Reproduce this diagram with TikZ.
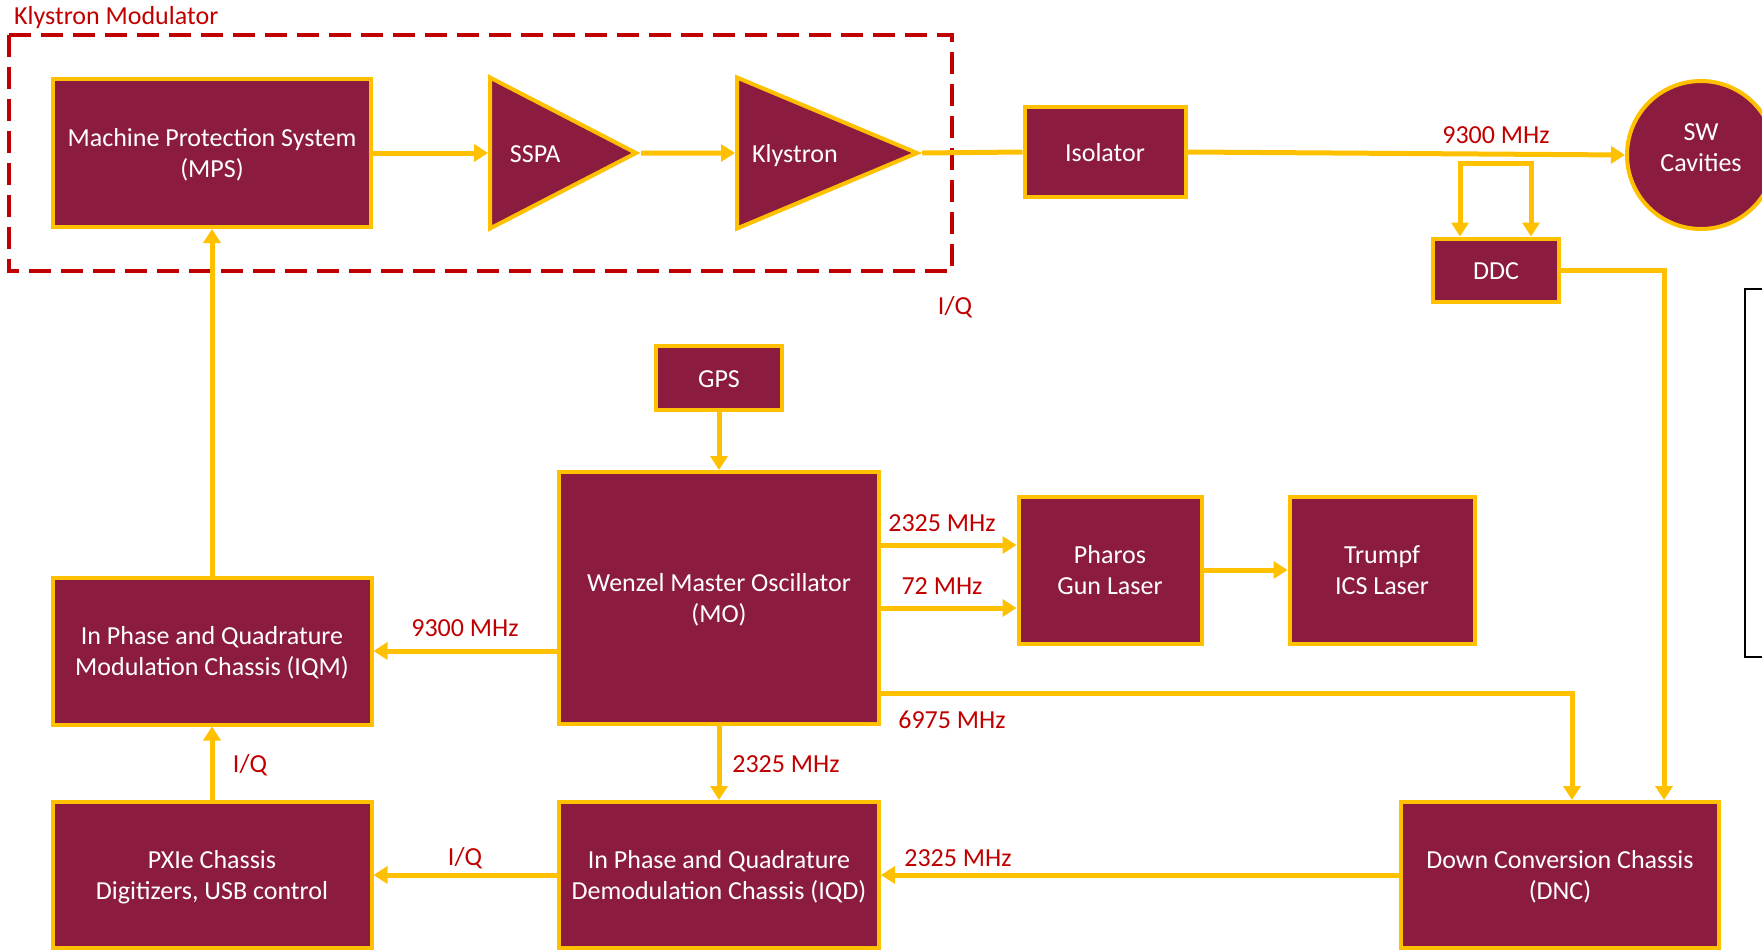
\documentclass[tikz,border=0pt]{standalone}
\usepackage{fontspec}
\setmainfont{Carlito}
\usetikzlibrary{positioning,shapes.geometric,arrows.meta}
\definecolor{boxfill}{HTML}{8B1C3F}
\definecolor{boxedge}{HTML}{FFC000}
\definecolor{lblred}{HTML}{C00000}
\tikzset{
  blk/.style={draw=boxedge, line width=4pt, fill=boxfill, text=white, align=center,
    font=\fontsize{26}{31}\selectfont, inner sep=0pt,
    execute at begin node={\rule[-7.5pt]{0pt}{33.5pt}}},
  two/.style={execute at begin node={\rule[-7.5pt]{0pt}{64.5pt}}},
  amp/.style={blk, isosceles triangle, isosceles triangle stretches,
    execute at begin node={}},
  flow/.style={draw=boxedge, line width=5pt, ->},
  lbl/.style={text=lblred, font=\fontsize{26}{31}\selectfont, inner sep=0pt},
  kmframe/.style={draw=lblred, line width=4pt, dash pattern=on 22pt off 10pt},
}

\begin{document}
\begin{tikzpicture}[x=1pt, y=-1pt, >={Triangle[length=14pt,width=17pt]}]
\useasboundingbox (0,0) rectangle (1762,951);

% ---- Klystron modulator ----
\draw[kmframe] (9,35) rectangle (952,271);
\node[lbl, anchor=west] (kmlbl) at (14,18) {Klystron Modulator};
\node[blk, two, minimum width=318pt, minimum height=148pt] (mps) at (212,153) {Machine Protection System\\(MPS)};
\node[amp, minimum height=146pt, minimum width=151pt, anchor=west] (sspa) at (488,153) {SSPA};
\node[amp, minimum height=180pt, minimum width=151pt, anchor=west] (klys) at (735,153) {Klystron};

% ---- RF line ----
\node[blk, minimum width=161pt, minimum height=90pt] (iso) at (1105,152) {Isolator};
\node[blk, circle, minimum size=148pt,
      execute at begin node={\rule[-14pt]{0pt}{14pt}}] (sw) at (1701,155) {SW\\Cavities};
\node[blk, minimum width=126pt, minimum height=63pt] (ddc) at (1496,270) {DDC};
\coordinate (cpl) at (1496,163);

% ---- timing / lasers ----
\node[blk, minimum width=126pt, minimum height=64pt] (gps) at (719,378) {GPS};
\node[blk, two, minimum width=320pt, minimum height=252pt] (mo) at (719,598) {Wenzel Master Oscillator\\(MO)};
\node[blk, two, minimum width=183pt, minimum height=147pt] (pharos) at (1110,570) {Pharos\\Gun Laser};
\node[blk, two, minimum width=185pt, minimum height=147pt, right=84pt of pharos] (trumpf) {Trumpf\\ICS Laser};

% ---- chassis ----
\node[blk, two, minimum width=319pt, minimum height=147pt] (iqm) at (212,651) {In Phase and Quadrature\\Modulation Chassis (IQM)};
\node[blk, two, minimum width=319pt, minimum height=146pt] (pxie) at (212,875) {PXIe Chassis\\Digitizers, USB control};
\node[blk, two, minimum width=320pt, minimum height=146pt] (iqd) at (719,875) {In Phase and Quadrature\\Demodulation Chassis (IQD)};
\node[blk, two, minimum width=318pt, minimum height=146pt] (dnc) at (1560,875) {Down Conversion Chassis\\(DNC)};

% ---- connections ----
\draw[flow] (mps.east) -- (sspa.west);
\draw[flow] (sspa.apex) -- (klys.west);
\draw[flow, -] (klys.apex) -- (iso.west);
\draw[flow] (iso.east) -- (sw.west);
\draw[flow, <->] ([xshift=-36pt]ddc.north) |- (cpl) -| ([xshift=35pt]ddc.north);
\draw[flow] (ddc.east) -| ([xshift=104pt]dnc.north);
\draw[flow] (gps.south) -- (mo.north);
\coordinate (p1) at ([yshift=25pt]pharos.west);
\coordinate (p2) at ([yshift=-38pt]pharos.west);
\draw[flow] (mo.east |- p1) -- (p1);
\draw[flow] (mo.east |- p2) -- (p2);
\draw[flow] (pharos.east) -- (trumpf.west);
\coordinate (m1) at ([yshift=-95pt]mo.east);
\draw[flow] (m1) -| ([xshift=12pt]dnc.north);
\draw[flow] (mo.west |- iqm.east) -- (iqm.east);
\draw[flow] (mo.south) -- (iqd.north);
\draw[flow] (iqd.west) -- (pxie.east);
\draw[flow] (pxie.north) -- (iqm.south);
\draw[flow] (iqm.north) -- (mps.south);
\draw[flow] (dnc.west) -- (iqd.east);

% ---- labels ----
\node[lbl] (f1) at (1496,135) {9300 MHz};
\node[lbl] (iq1) at (955,307) {I/Q};
\node[lbl] (f2) at (942,523) {2325 MHz};
\node[lbl] (f3) at (942,586) {72 MHz};
\node[lbl] (f4) at (952,720) {6975 MHz};
\node[lbl] (f5) at (465,628) {9300 MHz};
\node[lbl] (f6) at (786,764) {2325 MHz};
\node[lbl] (iq2) at (250,765) {I/Q};
\node[lbl] (iq3) at (465,858) {I/Q};
\node[lbl] (f7) at (958,858) {2325 MHz};

% partly hidden frame on the right edge
\draw[black, line width=2pt] (1775,289) -- (1745,289) -- (1745,657) -- (1775,657);
\end{tikzpicture}
\end{document}
